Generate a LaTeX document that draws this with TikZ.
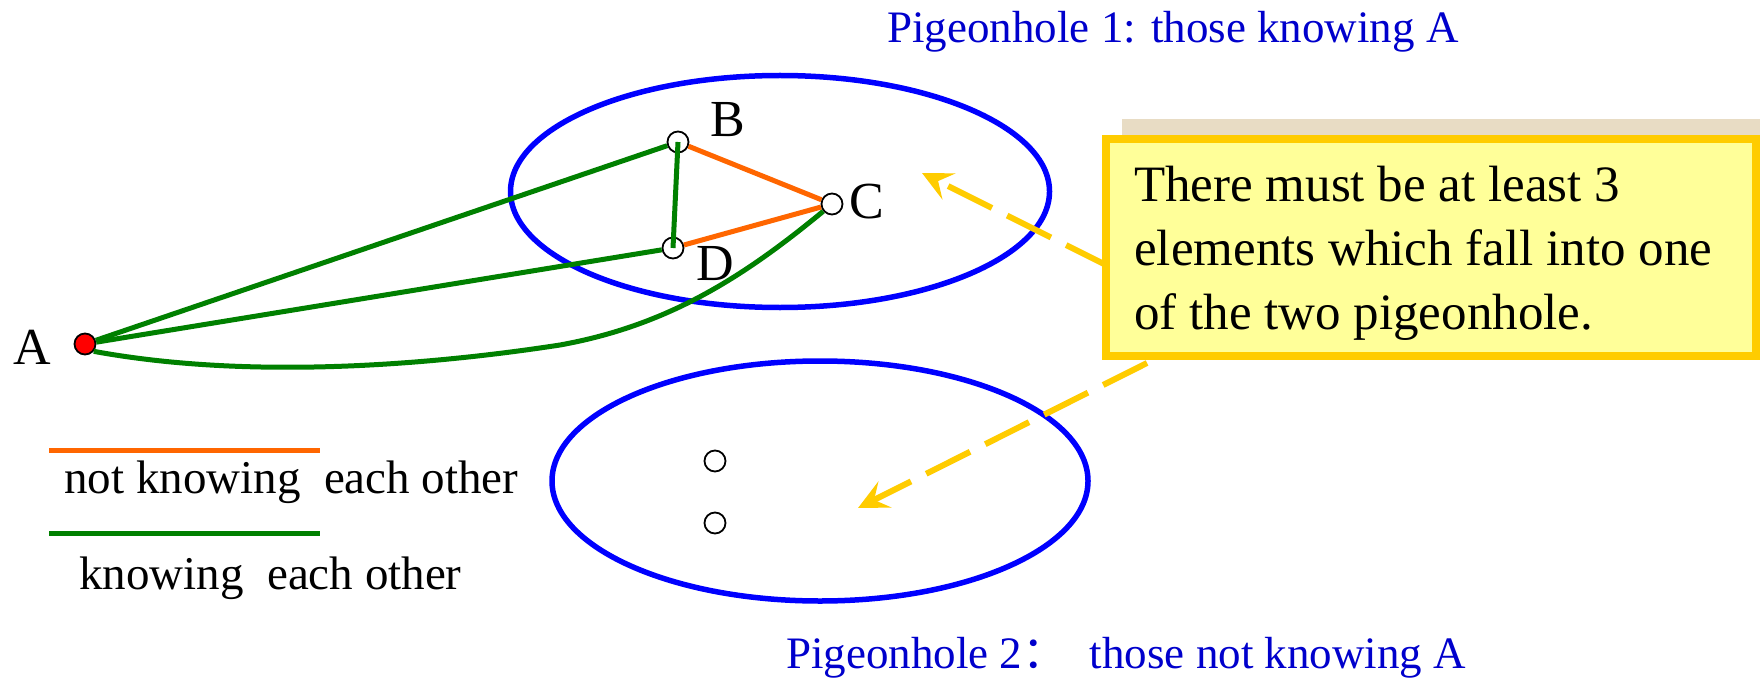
\documentclass[tikz,border=0pt]{standalone}
\usepackage{fontspec}
\setmainfont{Liberation Serif}
\newfontfamily\cjk{Noto Sans CJK SC}
\usetikzlibrary{arrows.meta,shapes.geometric}
\definecolor{hblue}{RGB}{0,0,255}
\definecolor{tblue}{RGB}{0,0,204}
\definecolor{kgreen}{RGB}{0,128,0}
\definecolor{norange}{RGB}{255,102,0}
\definecolor{gold}{RGB}{255,204,0}
\definecolor{pale}{RGB}{255,255,153}
\definecolor{shadowtan}{RGB}{232,220,196}
\begin{document}
\begin{tikzpicture}[x=1pt,y=-1pt,
  hole/.style={ellipse,draw=hblue,line width=5.5pt,inner sep=0pt},
  holetext/.style={text=tblue,font=\fontsize{45}{45}\selectfont,inner sep=0pt},
  legtext/.style={font=\fontsize{47}{47}\selectfont,inner sep=0pt},
  lab/.style={font=\fontsize{52}{52}\selectfont,inner sep=0pt},
  vert/.style={circle,draw=black,line width=1.8pt,fill=white,minimum size=21pt,inner sep=0pt},
  avert/.style={vert,fill=red},
  knows/.style={draw=kgreen,line width=5pt},
  notknows/.style={draw=norange,line width=5pt},
  ptr/.style={draw=gold,line width=6pt,dash pattern=on 49pt off 17pt,
    -{Stealth[length=30pt,width=29pt,inset=12pt]}},
]
\useasboundingbox (0,0) rectangle (1760,679);
\fill[white] (0,0) rectangle (1760,679);

% pigeonholes
\node[hole,minimum width=539pt,minimum height=232pt] (hole1) at (780,191.5) {};
\node[hole,minimum width=536pt,minimum height=240pt] (hole2) at (820,481) {};
\node[holetext,anchor=base] (lab1) at (1173,43) {Pigeonhole 1: those knowing A};
\node[holetext,anchor=base west] (lab2) at (786,668) {Pigeonhole 2{\cjk ：}\ \ those not knowing A};

% legend
\coordinate (o1) at (49,450); \coordinate (o2) at (320,450);
\coordinate (g1) at (49,533); \coordinate (g2) at (320,533);
\draw[notknows] (o1) -- (o2);
\draw[knows] (g1) -- (g2);
\node[legtext,anchor=base west] (leg1) at (64,493) {not knowing~ each other};
\node[legtext,anchor=base west] (leg2) at (79,589) {knowing~ each other};

% vertices
\node[avert] (A) at (85,344) {};
\node[vert] (B) at (678,142) {};
\node[vert] (C) at (832,204) {};
\node[vert] (D) at (673,248) {};
\node[vert] (E) at (715,461) {};
\node[vert] (F) at (715,523) {};
\coordinate (m) at (560,345);

% edges
\draw[knows] (A) -- (B);
\draw[knows] (A) -- (D);
\draw[knows] (A.-40) .. controls (250,380) and (430,365) .. (m)
                     .. controls (665,326) and (740,280) .. (C);
\draw[notknows] (B) -- (C);
\draw[notknows] (D) -- (C);
\draw[knows] (B.center) -- (D.center);

% vertex labels
\node[lab,anchor=base] (labA) at (32,364) {A};
\node[lab,anchor=base] (labB) at (728,137) {B};
\node[lab,anchor=base] (labC) at (867,218) {C};
\node[lab,anchor=base] (labD) at (715,280) {D};

% pointers
\coordinate (s1) at (1110,267); \coordinate (e1) at (922,173);
\coordinate (s2) at (1147,363); \coordinate (e2) at (858,508);
\draw[ptr] (s1) -- (e1);
\draw[ptr] (s2) -- (e2);

% callout
\node[fill=shadowtan,minimum width=658pt,minimum height=225pt,inner sep=0pt,anchor=north west] (shadow) at (1122,119) {};
\node[draw=gold,line width=7pt,fill=pale,minimum width=651pt,minimum height=218pt,inner sep=0pt] (note) at (1431,247.5) {};
\draw[gold,line width=2pt] ([shift={(7,7)}]note.north west) rectangle ([shift={(-7,-7)}]note.south east);
\node[anchor=north west,align=left,font=\fontsize{51}{64}\selectfont,inner sep=0pt] (notetext) at (1134,166)
  {There must be at least 3\\elements which fall into one\\of the two pigeonhole.};
\end{tikzpicture}
\end{document}
